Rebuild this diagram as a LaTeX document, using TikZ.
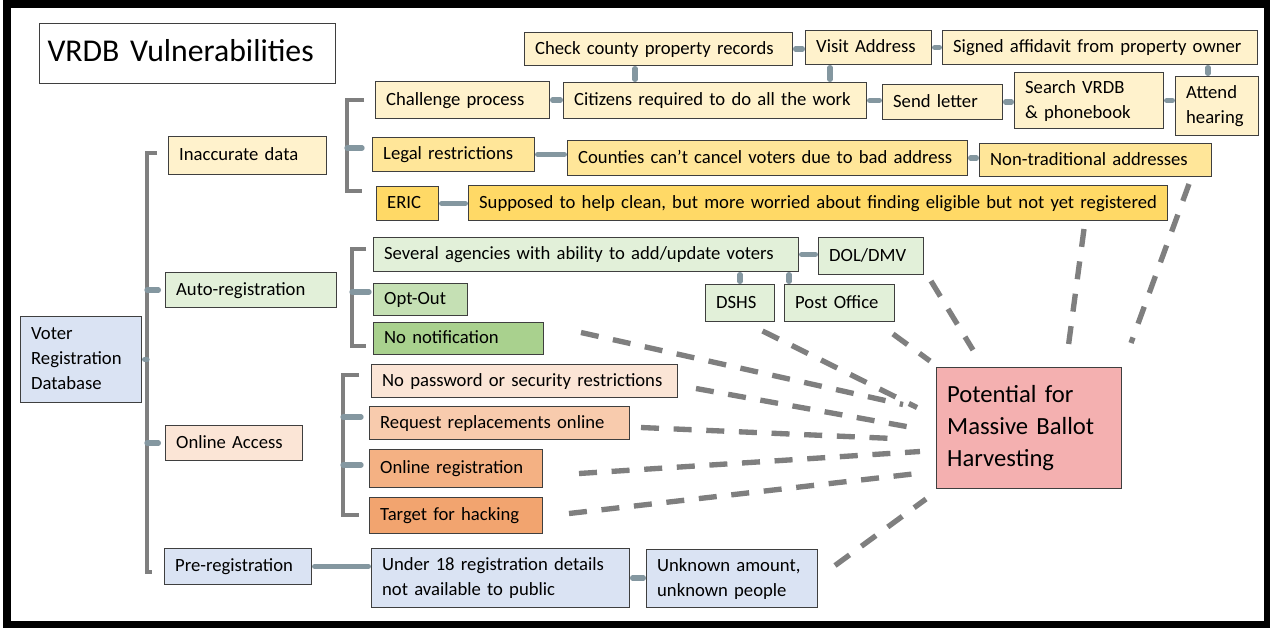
\documentclass[tikz,border=0pt]{standalone}
\usepackage{fontspec}
\setmainfont{Carlito}
\usepackage{tikz}

\definecolor{yelA}{HTML}{FFF2CC}
\definecolor{yelB}{HTML}{FFE699}
\definecolor{yelC}{HTML}{FFD966}
\definecolor{grnA}{HTML}{E2F0D9}
\definecolor{grnB}{HTML}{C5E0B4}
\definecolor{grnC}{HTML}{A9D18E}
\definecolor{orgA}{HTML}{FBE5D6}
\definecolor{orgB}{HTML}{F8CBAD}
\definecolor{orgC}{HTML}{F4B183}
\definecolor{orgD}{HTML}{F2A46F}
\definecolor{bluA}{HTML}{DAE3F3}
\definecolor{pinkA}{HTML}{F4B0B0}
\definecolor{edge}{HTML}{3F3F3F}
\definecolor{brk}{HTML}{7F7F7F}
\definecolor{nub}{HTML}{8497A0}
\definecolor{dashc}{HTML}{7F7F7F}

\begin{document}
\begin{tikzpicture}[x=0.75pt, y=-0.75pt, every node/.style={font=\fontsize{14pt}{18.75pt}\selectfont}]

		% Page frame: white page with a thick black border
		\useasboundingbox (0,0) rectangle (1270,628);
		\fill[white] (0,0) rectangle (1270,628);
		\fill[black] (3,0) rectangle (1270,628);
		\fill[white] (11,8) rectangle (1264,621);

		% Define styles for boxes (width and height in pixels), brackets and links
		\tikzset{
			cell/.style 2 args={draw=edge, line width=0.75pt, anchor=north west, inner xsep=8pt, inner ysep=0pt,
				minimum width=#1*0.75pt, minimum height=#2*0.75pt, text width=#1*0.75pt-16pt, align=left,
				execute at begin node=\strut, execute at end node=\strut},
			spine/.style={draw=brk, line width=3pt},
			tick/.style={draw=nub, line width=4pt, line cap=round},
			link/.style={tick, shorten <=2pt, shorten >=2pt},
			dashlink/.style={draw=dashc, line width=4pt, dash pattern=on 13.5pt off 11pt}
		};

		% Title
		\node[cell={296}{60}, fill=white, inner xsep=6pt, text width=296*0.75pt-12pt,
			font=\fontsize{23.8pt}{30pt}\selectfont] (title) at (39,23) {VRDB Vulnerabilities};

		% Root: the database
		\node[cell={121}{86}, fill=bluA] (vrd) at (20,316) {Voter\\Registration\\Database};

		% Level 1: the four vulnerabilities
		\node[cell={158}{38}, fill=yelA] (inacc) at (168,136) {Inaccurate data};
		\node[cell={171}{35}, fill=grnA] (auto) at (165,272) {Auto-registration};
		\node[cell={137}{35}, fill=orgA] (online) at (165,425) {Online Access};
		\node[cell={147}{36}, fill=bluA] (prereg) at (164,548) {Pre-registration};

		% Inaccurate data: challenge process chain
		\node[cell={268}{33}, fill=yelA] (chk) at (524,32) {\mbox{Check county property records}};
		\node[cell={126}{34}, fill=yelA] (visit) at (805,30) {Visit Address};
		\node[cell={315}{34}, fill=yelA] (affid) at (942,30) {\mbox{Signed affidavit from property owner}};
		\node[cell={174}{37}, fill=yelA] (chal) at (375,81) {Challenge process};
		\node[cell={303}{36}, fill=yelA] (citz) at (563,82) {\mbox{Citizens required to do all the work}};
		\node[cell={120}{35}, fill=yelA] (letter) at (882,84) {Send letter};
		\node[cell={149}{56}, fill=yelA] (search) at (1014,72) {Search VRDB\\\& phonebook};
		\node[cell={83}{59}, fill=yelA] (hear) at (1175,76) {Attend\\hearing};

		% Inaccurate data: legal restrictions and ERIC
		\node[cell={162}{34}, fill=yelB] (legal) at (372,137) {Legal restrictions};
		\node[cell={400}{35}, fill=yelB] (cancel) at (567,140) {\mbox{Counties can’t cancel voters due to bad address}};
		\node[cell={232}{33}, fill=yelB] (nontrad) at (979,143) {\mbox{Non-traditional addresses}};
		\node[cell={62}{34}, fill=yelC] (eric) at (376,186) {ERIC};
		\node[cell={699}{35}, fill=yelC] (clean) at (468,185) {\mbox{Supposed to help clean, but more worried about finding eligible but not yet registered}};

		% Auto-registration
		\node[cell={425}{34}, fill=grnA] (agency) at (373,237) {\mbox{Several agencies with ability to add/update voters}};
		\node[cell={105}{37}, fill=grnA] (dol) at (818,237) {DOL/DMV};
		\node[cell={69}{37}, fill=grnA] (dshs) at (705,284) {DSHS};
		\node[cell={110}{37}, fill=grnA] (post) at (784,284) {Post Office};
		\node[cell={94}{32}, fill=grnB] (optout) at (373,283) {Opt-Out};
		\node[cell={170}{32}, fill=grnC] (nonote) at (373,322) {No notification};

		% Online Access
		\node[cell={306}{33}, fill=orgA] (nopass) at (371,364) {\mbox{No password or security restrictions}};
		\node[cell={260}{33}, fill=orgB] (replace) at (369,406) {\mbox{Request replacements online}};
		\node[cell={173}{38}, fill=orgC] (onreg) at (369,449) {Online registration};
		\node[cell={173}{36}, fill=orgD] (hack) at (369,497) {Target for hacking};

		% Pre-registration
		\node[cell={258}{59}, fill=bluA] (under) at (371,548) {Under 18 registration details\\not available to public};
		\node[cell={171}{58}, fill=bluA] (unknown) at (646,549) {Unknown amount,\\unknown people};

		% Outcome
		\node[cell={185}{121}, fill=pinkA, font=\fontsize{18.5pt}{24pt}\selectfont] (ballot) at (936,367) {Potential for\\Massive Ballot\\Harvesting};

		% Brackets
		\draw[spine] (157,153) -- (147,153) -- (147,572) -- (152,572);
		\draw[tick, shorten <=2pt] (vrd.east) -- (vrd.east -| 147,0);
		\draw[tick, shorten <=5pt] (auto.west) -- (auto.west -| 147,0);
		\draw[tick, shorten <=5pt] (online.west) -- (online.west -| 147,0);

		\draw[spine] (364,100) -- (347,100) -- (347,191) -- (362,191);
		\draw[tick] (347,148) -- (362,148);

		\draw[spine] (366,249) -- (352,249) -- (352,346) -- (366,346);
		\draw[tick] (352,292) -- (369,292);

		\draw[spine] (359,375) -- (343,375) -- (343,515) -- (359,515);
		\draw[tick] (343,417) -- (361,417);
		\draw[tick] (343,465) -- (361,465);

		% Links between boxes
		\draw[link] (chk.south -| 635,0) -- (citz.north -| 635,0);
		\draw[link] (visit.south -| 830,0) -- (citz.north -| 830,0);
		\draw[link] (chk.east) -- (chk.east -| visit.west);
		\draw[link] (visit.east) -- (visit.east -| affid.west);
		\draw[link] (affid.south -| 1208,0) -- (hear.north -| 1208,0);
		\draw[link] (chal.east) -- (chal.east -| citz.west);
		\draw[link] (citz.east) -- (citz.east -| letter.west);
		\draw[link] (letter.east) -- (letter.east -| search.west);
		\draw[link] (search.east) -- (search.east -| hear.west);
		\draw[link] (legal.east) -- (legal.east -| cancel.west);
		\draw[link] (cancel.east) -- (cancel.east -| nontrad.west);
		\draw[link] (eric.east) -- (eric.east -| clean.west);
		\draw[link] (agency.east) -- (agency.east -| dol.west);
		\draw[link] (agency.south -| 740,0) -- (dshs.north -| 740,0);
		\draw[link] (agency.south -| 789,0) -- (post.north -| 789,0);
		\draw[link] (prereg.east) -- (prereg.east -| under.west);
		\draw[link] (under.east) -- (under.east -| unknown.west);

		% Dashed lines into the outcome
		\draw[dashlink] ([shift={(37,-6)}]nonote.east) -- ([shift={(-33,-23.5)}]ballot.west);
		\draw[dashlink] ([shift={(22.5,9)}]dshs.south) -- ([shift={(-19,-20.5)}]ballot.west);
		\draw[dashlink] ([shift={(-2,12)}]post.south east) -- ([shift={(-6,-6)}]ballot.north west);
		\draw[dashlink] ([shift={(7,6)}]dol.south east) -- ([shift={(37,-17)}]ballot.north west);
		\draw[dashlink] ([shift={(-84,8)}]clean.south east) -- ([shift={(39.5,-22)}]ballot.north);
		\draw[dashlink] ([shift={(-23,7)}]nontrad.south east) -- ([shift={(9,-24)}]ballot.north east);
		\draw[dashlink] ([shift={(18,7.5)}]nopass.east) -- ([shift={(-24,-0.5)}]ballot.west);
		\draw[dashlink] ([shift={(11,4.5)}]replace.east) -- ([shift={(-43,10.5)}]ballot.west);
		\draw[dashlink] ([shift={(36,5)}]onreg.east) -- ([shift={(-16,23.5)}]ballot.west);
		\draw[dashlink] ([shift={(26,-2)}]hack.east) -- ([shift={(-19,45.5)}]ballot.west);
		\draw[dashlink] ([shift={(17,-13)}]unknown.east) -- ([shift={(-10,10)}]ballot.south west);
	\end{tikzpicture}
\end{document}
